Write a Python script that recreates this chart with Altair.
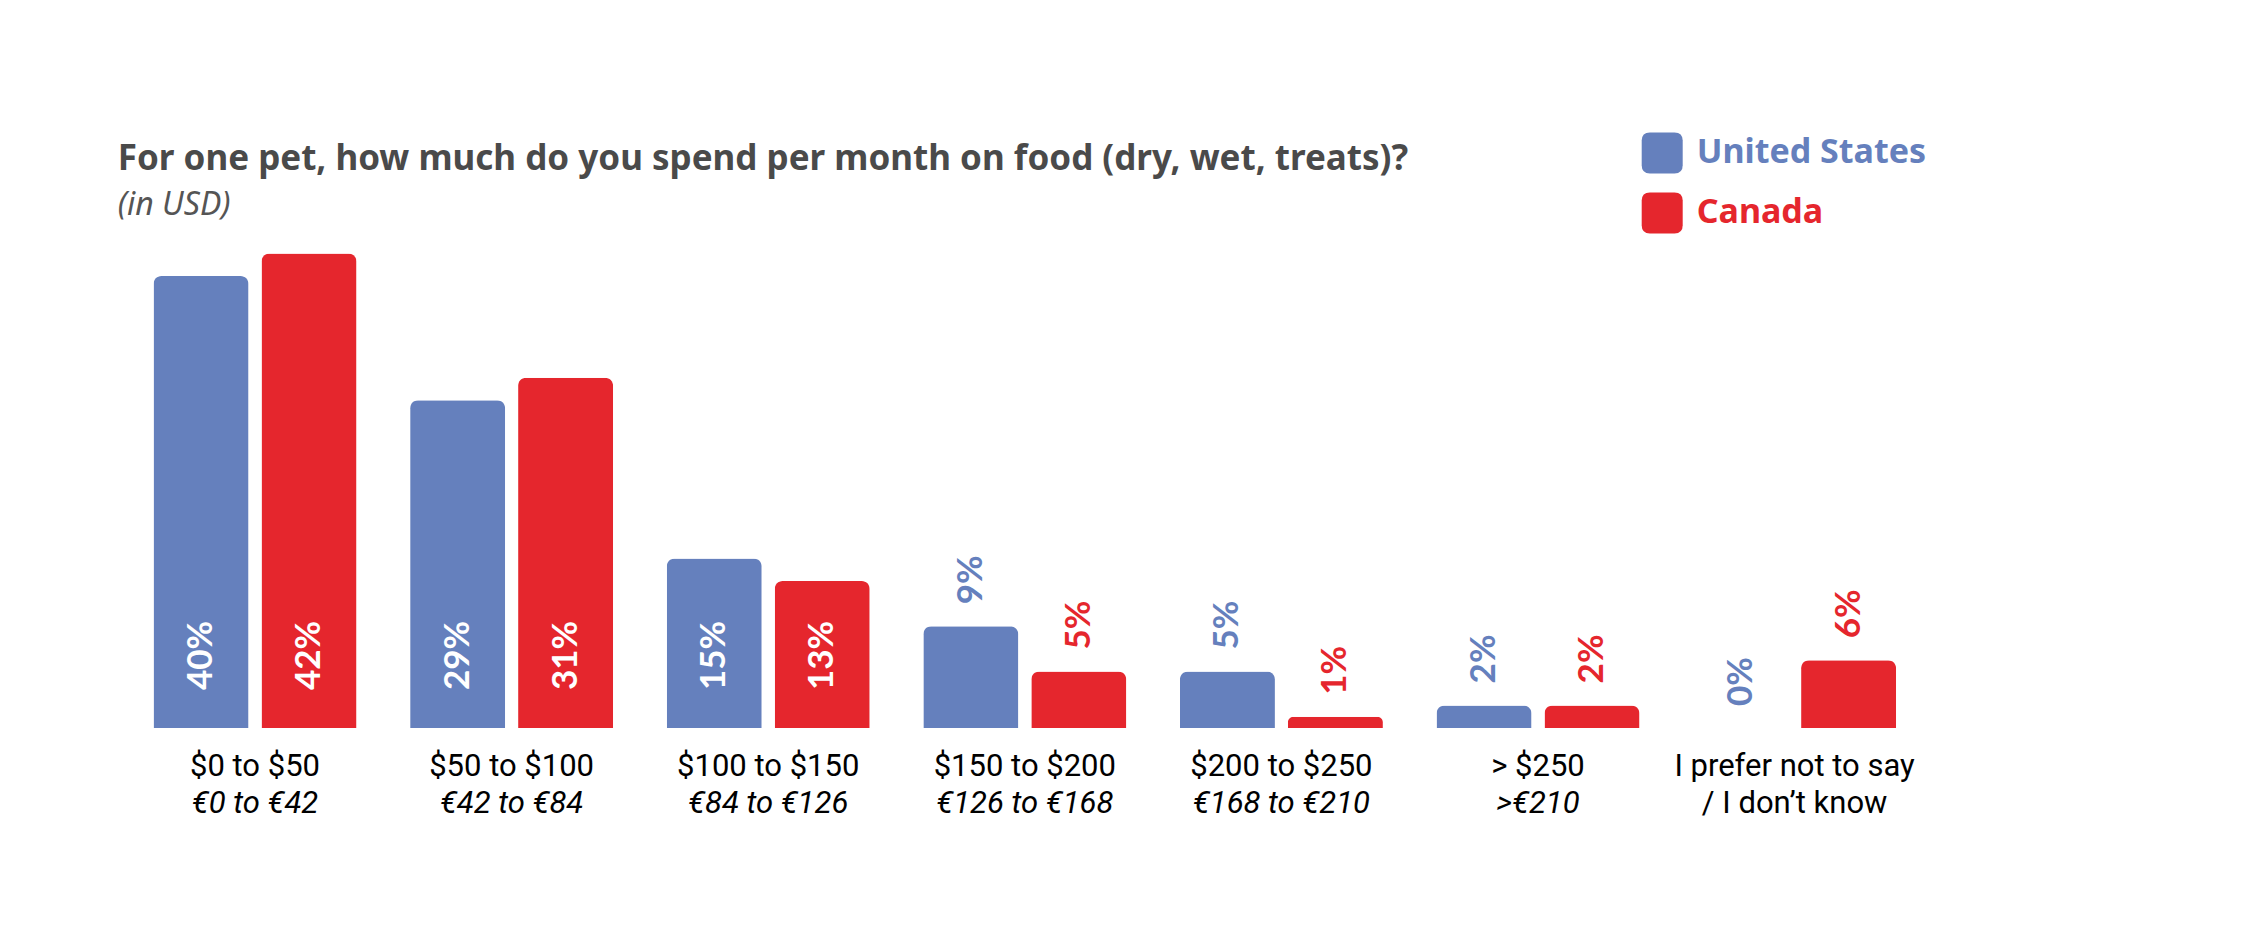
import json
import altair as alt
import pandas as pd

categories_usd = ["$0 to $50", "$50 to $100", "$100 to $150", "$150 to $200",
                  "$200 to $250", "> $250", "I prefer not to say"]
categories_eur = ["€0 to €42", "€42 to €84", "€84 to €126", "€126 to €168",
                  "€168 to €210", ">€210", "/ I don’t know"]
countries = ["United States", "Canada"]
us_values = [40, 29, 15, 9, 5, 2, 0]
ca_values = [42, 31, 13, 5, 1, 2, 6]
colors = ["#6580BD", "#E5262D"]

rows = []
for i, cat in enumerate(categories_usd):
    for country, vals in zip(countries, [us_values, ca_values]):
        v = vals[i]
        rows.append({"category": cat, "country": country, "value": v,
                     "label": f"{v}%", "inside": v >= 10, "zero": 0})
df = pd.DataFrame(rows)

FONT = "Lato"
TFONT = "Noto Sans"
AFONT = "Roboto"
W = 1796.2
H = 474.6

xsc = alt.Scale(domain=categories_usd, paddingInner=0.209, paddingOuter=0.1045)
xoff = alt.XOffset("country:N", sort=countries, scale=alt.Scale(paddingInner=0.12, paddingOuter=0))
ysc = alt.Scale(domain=[0, 42], nice=False, zero=True)
csc = alt.Scale(domain=countries, range=colors)

eur_expr = (json.dumps(categories_eur, ensure_ascii=False) + "[indexof(" +
            json.dumps(categories_usd, ensure_ascii=False) + ", datum.value)]")

rounded_square = ("M-1,-0.6 Q-1,-1 -0.6,-1 L0.6,-1 Q1,-1 1,-0.6 L1,0.6 Q1,1 0.6,1 "
                  "L-0.6,1 Q-1,1 -1,0.6 Z")

base = alt.Chart(df)

bars = base.mark_bar(cornerRadiusTopLeft=8, cornerRadiusTopRight=8).encode(
    x=alt.X("category:N", sort=categories_usd, scale=xsc, title=None,
            axis=alt.Axis(orient="bottom", domain=False, ticks=False, tickSize=0,
                          labelAngle=0, labelFont=AFONT, labelFontSize=31,
                          labelColor="#000000", labelBaseline="alphabetic",
                          labelPadding=47, labelLimit=400, grid=False)),
    xOffset=xoff,
    y=alt.Y("value:Q", scale=ysc, axis=None),
    color=alt.Color("country:N", scale=csc, sort=countries,
                    legend=alt.Legend(
                        title=None, orient="none", legendX=1515, legendY=-121,
                        symbolType=rounded_square, symbolSize=1681,
                        symbolStrokeWidth=0, symbolOpacity=1,
                        labelFont=TFONT, labelFontSize=34, labelFontWeight="bold",
                        labelColor=alt.ExprRef("datum.label == 'Canada' ? '#E5262D' : '#6580BD'"),
                        labelOffset=14, rowPadding=19, labelBaseline="middle",
                        labelLimit=400)),
)

inside = base.transform_filter("datum.inside").mark_text(
    angle=270, align="left", baseline="middle", dx=38,
    font=FONT, fontSize=35, fontWeight="bold", color="#FFFFFF"
).encode(
    x=alt.X("category:N", sort=categories_usd, scale=xsc, axis=None),
    xOffset=xoff,
    y=alt.Y("zero:Q", scale=ysc, axis=None),
    text="label:N",
)

outside = base.transform_filter("!datum.inside").mark_text(
    angle=270, align="left", baseline="middle", dx=22,
    font=FONT, fontSize=35, fontWeight="bold"
).encode(
    x=alt.X("category:N", sort=categories_usd, scale=xsc, title=None,
            axis=alt.Axis(orient="bottom", domain=False, ticks=False, tickSize=0,
                          labelAngle=0, labelFont=AFONT, labelFontSize=31,
                          labelColor="#000000", labelBaseline="alphabetic",
                          labelPadding=47, offset=37, labelLimit=400, grid=False,
                          labelExpr=eur_expr,
                          labelFontStyle={"condition": {"test": "datum.value == 'I prefer not to say'",
                                                        "value": "normal"},
                                          "value": "italic"})),
    xOffset=xoff,
    y=alt.Y("value:Q", scale=ysc, axis=None),
    color=alt.Color("country:N", scale=csc, sort=countries, legend=None),
    text="label:N",
)

chart = alt.layer(bars, inside, outside).resolve_axis(x="independent").properties(
    width=W, height=H,
    autosize=alt.AutoSizeParams(type="none"),
    padding={"left": 118.7, "top": 245.4, "right": 313.1, "bottom": 180},
    title=alt.TitleParams(
        text="For one pet, how much do you spend per month on food (dry, wet, treats)?",
        subtitle="(in USD)", anchor="start", dx=-9, offset=-89,
        font=TFONT, fontSize=35, fontWeight="bold", color="#4A4A4A",
        subtitleFont=TFONT, subtitleFontSize=32, subtitleFontStyle="italic",
        subtitleFontWeight="normal", subtitleColor="#555555", subtitlePadding=13),
).configure(font=FONT, background="white").configure_view(strokeWidth=0, stroke="transparent")

chart.save("out.html", embed_options={"renderer": "svg", "actions": False})
